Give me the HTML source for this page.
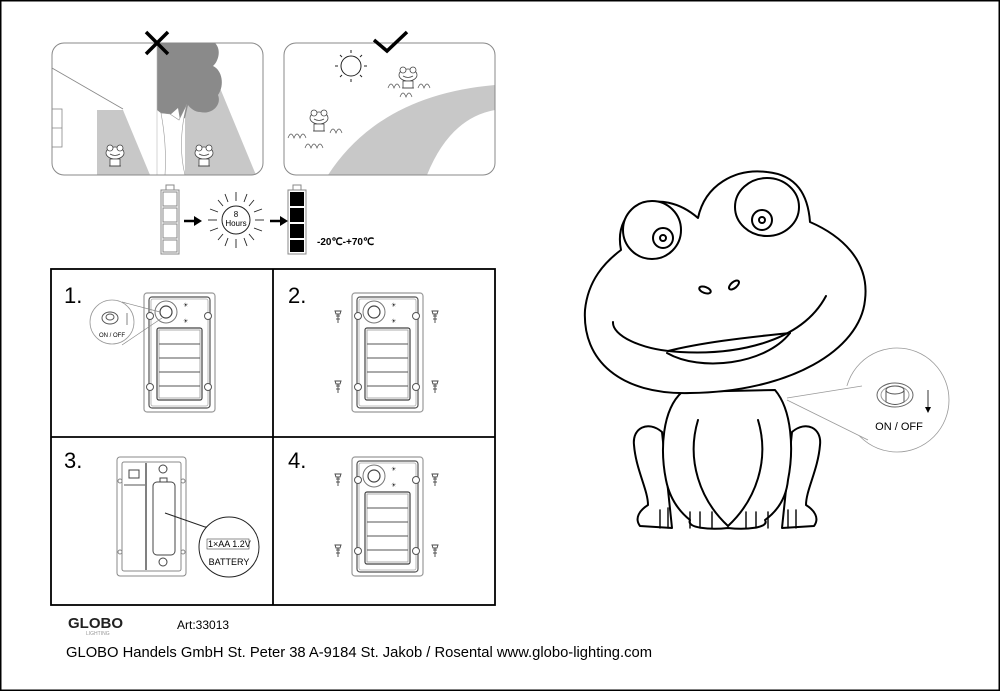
<!DOCTYPE html>
<html><head><meta charset="utf-8"><style>
html,body{margin:0;padding:0;background:#fff;}
svg{display:block;font-family:"Liberation Sans",sans-serif;}
</style></head><body>
<svg width="1000" height="691" viewBox="0 0 1000 691" xmlns="http://www.w3.org/2000/svg">
<defs>
 <g id="dev">
  <rect x="0" y="0" width="71" height="119" rx="3" fill="#fff" stroke="#999" stroke-width="1.2"/>
  <rect x="5" y="4" width="61" height="111" rx="3" fill="none" stroke="#555" stroke-width="1.2"/>
  <rect x="7" y="6" width="57" height="107" rx="2" fill="none" stroke="#aaa" stroke-width="0.8"/>
  <circle cx="22" cy="19" r="11" fill="#fff" stroke="#777" stroke-width="1"/>
  <circle cx="22" cy="19" r="6" fill="#fff" stroke="#444" stroke-width="1.2"/>
  <text x="39" y="14" font-size="6" fill="#222">☀</text>
  <text x="39" y="30" font-size="6" fill="#222">☀</text>
  <rect x="13" y="35" width="45" height="72" rx="2" fill="#fff" stroke="#444" stroke-width="1.2"/>
  <rect x="15" y="37" width="41" height="68" fill="none" stroke="#999" stroke-width="0.8"/>
  <line x1="15" y1="51" x2="56" y2="51" stroke="#555"/>
  <line x1="15" y1="65" x2="56" y2="65" stroke="#555"/>
  <line x1="15" y1="79" x2="56" y2="79" stroke="#555"/>
  <line x1="15" y1="93" x2="56" y2="93" stroke="#555"/>
  <circle cx="64" cy="23" r="3.5" fill="#fff" stroke="#555"/>
  <circle cx="6" cy="94" r="3.5" fill="#fff" stroke="#555"/>
  <circle cx="64" cy="94" r="3.5" fill="#fff" stroke="#555"/>
 </g>
 <g id="screw" stroke="#444" fill="#fff" stroke-width="0.9">
  <path d="M-3,-6 L3,-6 L2,-3 L-2,-3 Z"/><line x1="0" y1="-3" x2="0" y2="6"/><line x1="-2" y1="-1" x2="2" y2="-1"/><line x1="-2" y1="2" x2="2" y2="2"/>
 </g>
 <g id="smallfrog" fill="none" stroke="#444" stroke-width="0.8">
  <ellipse cx="0" cy="0" rx="9" ry="6" fill="#fff"/><circle cx="-5" cy="-5" r="3" fill="#fff"/><circle cx="5" cy="-5" r="3" fill="#fff"/>
  <path d="M-5,1 Q0,4 5,1"/><rect x="-5" y="6" width="10" height="7" fill="#fff"/><line x1="-6" y1="13" x2="6" y2="13"/>
 </g>
</defs>
<rect x="0.5" y="0.5" width="999" height="690" fill="#fff" stroke="#000" stroke-width="2"/>

<!-- Panel 1 -->
<clipPath id="c1"><rect x="52" y="43" width="211" height="132" rx="12"/></clipPath>
<g clip-path="url(#c1)">
 <rect x="52" y="43" width="211" height="132" fill="#fff"/>
 <polygon points="97,110 123,110 150,175 97,175" fill="#c8c8c8"/>
 <line x1="52" y1="68" x2="123" y2="109" stroke="#888" stroke-width="0.8"/>
 <rect x="52" y="109" width="10" height="38" fill="none" stroke="#888" stroke-width="0.8"/>
 <line x1="52" y1="128" x2="62" y2="128" stroke="#888" stroke-width="0.8"/>
 <polygon points="185,100 220,88 256,175 185,175" fill="#c8c8c8"/>
 <path d="M157,43 L215,43 C222,50 218,62 213,66 C222,70 225,85 218,95 C222,105 212,115 200,112 C195,112 190,108 188,105 L185,118 L180,120 L178,108 L170,115 C165,118 160,112 157,110 Z" fill="#8a8a8a"/>
 <path d="M161,113 C166,140 166,160 165,175 L185,175 C180,155 180,130 187,104 L179,120 L170,114 Z" fill="#fff" stroke="#999" stroke-width="0.6"/>
 <line x1="157" y1="43" x2="157" y2="175" stroke="#bbb" stroke-width="0.6"/>
 <use href="#smallfrog" x="115" y="153"/>
 <use href="#smallfrog" x="204" y="153"/>
</g>
<rect x="52" y="43" width="211" height="132" rx="12" fill="none" stroke="#888" stroke-width="1"/>
<path d="M146,32 L168,54 M168,32 L146,54" stroke="#000" stroke-width="3.5"/>

<!-- Panel 2 -->
<clipPath id="c2"><rect x="284" y="43" width="211" height="132" rx="12"/></clipPath>
<g clip-path="url(#c2)">
 <path d="M328,175 Q380,95 495,85 L495,110 Q450,118 427,175 Z" fill="#c8c8c8"/>
 <use href="#smallfrog" x="319" y="118"/>
 <use href="#smallfrog" x="408" y="75"/>
 <path d="M288,138 q3,-8 6,0 q3,-8 6,0 q3,-8 6,0 M330,133 q3,-8 6,0 q3,-8 6,0 M305,148 q3,-8 6,0 q3,-8 6,0 q3,-8 6,0 M388,88 q3,-8 6,0 q3,-8 6,0 M400,97 q3,-8 6,0 q3,-8 6,0 M418,88 q3,-8 6,0 q3,-8 6,0" fill="none" stroke="#555" stroke-width="0.7"/>
 <circle cx="351" cy="66" r="10" fill="#fff" stroke="#222" stroke-width="1"/>
 <g stroke="#222" stroke-width="1">
  <line x1="351" y1="50" x2="351" y2="53"/><line x1="351" y1="79" x2="351" y2="82"/><line x1="335" y1="66" x2="338" y2="66"/><line x1="364" y1="66" x2="367" y2="66"/>
  <line x1="340" y1="55" x2="342" y2="57"/><line x1="360" y1="75" x2="362" y2="77"/><line x1="362" y1="55" x2="360" y2="57"/><line x1="340" y1="77" x2="342" y2="75"/>
 </g>
</g>
<rect x="284" y="43" width="211" height="132" rx="12" fill="none" stroke="#888" stroke-width="1"/>
<path d="M374,40 L387,51 L407,32" fill="none" stroke="#000" stroke-width="3.5"/>

<!-- battery row -->
<g stroke="#888" fill="#fff" stroke-width="1">
 <rect x="166" y="185" width="8" height="5"/>
 <rect x="161" y="190" width="18" height="64"/>
 <rect x="163" y="192" width="14" height="14"/><rect x="163" y="208" width="14" height="14"/><rect x="163" y="224" width="14" height="14"/><rect x="163" y="240" width="14" height="12"/>
 <rect x="293" y="185" width="8" height="5"/>
 <rect x="288" y="190" width="18" height="64"/>
</g>
<g fill="#000"><rect x="290" y="192" width="14" height="14"/><rect x="290" y="208" width="14" height="14"/><rect x="290" y="224" width="14" height="14"/><rect x="290" y="240" width="14" height="12"/></g>
<path d="M184,221 L196,221" stroke="#000" stroke-width="2.5"/><path d="M194,216 L202,221 L194,226 Z"/>
<path d="M270,221 L282,221" stroke="#000" stroke-width="2.5"/><path d="M280,216 L288,221 L280,226 Z"/>
<circle cx="236" cy="220" r="14" fill="#fff" stroke="#222" stroke-width="1"/>
<g stroke="#222" stroke-width="0.9">
 <line x1="236" y1="192" x2="236" y2="201"/><line x1="236" y1="239" x2="236" y2="248"/>
 <line x1="208" y1="220" x2="217" y2="220"/><line x1="255" y1="220" x2="264" y2="220"/>
 <line x1="218" y1="200" x2="223" y2="206"/><line x1="249" y1="234" x2="254" y2="240"/>
 <line x1="254" y1="200" x2="249" y2="206"/><line x1="218" y1="240" x2="223" y2="234"/>
 <line x1="225" y1="194" x2="228" y2="202"/><line x1="247" y1="194" x2="244" y2="202"/>
 <line x1="225" y1="246" x2="228" y2="238"/><line x1="247" y1="246" x2="244" y2="238"/>
 <line x1="210" y1="209" x2="218" y2="212"/><line x1="262" y1="209" x2="254" y2="212"/>
 <line x1="210" y1="231" x2="218" y2="228"/><line x1="262" y1="231" x2="254" y2="228"/>
</g>
<text x="236" y="217" font-size="8" text-anchor="middle">8</text>
<text x="236" y="226" font-size="8" text-anchor="middle">Hours</text>
<text x="317" y="245" font-size="10" font-weight="bold">-20℃-+70℃</text>

<!-- Grid -->
<rect x="51" y="269" width="444" height="336" fill="none" stroke="#000" stroke-width="1.8"/>
<line x1="273" y1="269" x2="273" y2="605" stroke="#000" stroke-width="1.8"/>
<line x1="51" y1="437" x2="495" y2="437" stroke="#000" stroke-width="1.8"/>
<text x="64" y="303" font-size="22">1.</text>
<text x="288" y="303" font-size="22">2.</text>
<text x="64" y="468" font-size="22">3.</text>
<text x="288" y="468" font-size="22">4.</text>

<use href="#dev" x="144" y="293"/>
<circle cx="150" cy="316" r="3.5" fill="#fff" stroke="#555"/>
<path d="M122,302 L160,312 M122,345 L162,318" stroke="#888" stroke-width="0.7"/>
<circle cx="112" cy="322" r="22" fill="#fff" stroke="#999" stroke-width="0.8"/>
<ellipse cx="110" cy="318" rx="8" ry="6" fill="#fff" stroke="#555"/><ellipse cx="110" cy="317" rx="4" ry="3" fill="#fff" stroke="#555"/>
<line x1="127" y1="313" x2="127" y2="325" stroke="#333" stroke-width="0.6"/>
<text x="112" y="337" font-size="6" text-anchor="middle">ON / OFF</text>

<use href="#dev" x="352" y="293"/>
<circle cx="358" cy="316" r="3.5" fill="#fff" stroke="#555"/>
<use href="#screw" x="338" y="317"/><use href="#screw" x="435" y="317"/><use href="#screw" x="338" y="387"/><use href="#screw" x="435" y="387"/>

<use href="#dev" x="352" y="457"/>
<circle cx="358" cy="480" r="3.5" fill="#fff" stroke="#555"/>
<use href="#screw" x="338" y="480"/><use href="#screw" x="435" y="480"/><use href="#screw" x="338" y="551"/><use href="#screw" x="435" y="551"/>

<!-- battery device -->
<g fill="none" stroke="#888" stroke-width="1">
 <rect x="117" y="457" width="69" height="119" rx="3" fill="#fff"/>
 <rect x="122" y="462" width="59" height="109" rx="2"/>
 <line x1="146" y1="463" x2="146" y2="570" stroke="#555" stroke-width="1.5"/>
 <line x1="124" y1="485" x2="145" y2="485" stroke="#555"/>
 <rect x="129" y="470" width="10" height="8" stroke="#444"/>
 <circle cx="163" cy="469" r="4" stroke="#444"/>
 <circle cx="163" cy="562" r="4" stroke="#444"/>
 <rect x="153" y="482" width="22" height="73" rx="4" stroke="#444"/>
 <rect x="160" y="478" width="7" height="4" stroke="#444"/>
 <circle cx="120" cy="481" r="2"/><circle cx="183" cy="481" r="2"/><circle cx="120" cy="552" r="2"/><circle cx="183" cy="552" r="2"/>
</g>
<path d="M165,513 L205,527 L230,525" fill="none" stroke="#222" stroke-width="1"/>
<circle cx="229" cy="547" r="30" fill="#fff" stroke="#222" stroke-width="1"/>
<text x="208" y="547" font-size="9">1×AA 1.2V</text>
<rect x="207" y="539" width="42" height="10" fill="none" stroke="#444" stroke-width="0.6"/>
<text x="229" y="565" font-size="9" text-anchor="middle">BATTERY</text>

<!-- footer -->
<text x="68" y="628" font-size="15" font-weight="bold" fill="#222">GLOBO</text>
<text x="86" y="635" font-size="5" fill="#999">LIGHTING</text>
<text x="177" y="629" font-size="12">Art:33013</text>
<text x="66" y="657" font-size="15" textLength="586" lengthAdjust="spacingAndGlyphs">GLOBO Handels GmbH  St. Peter 38  A-9184 St. Jakob / Rosental  www.globo-lighting.com</text>

<!-- Frog -->
<g fill="#fff" stroke="#000" stroke-width="2" stroke-linejoin="round" stroke-linecap="round">
 <path d="M662,432 C648,420 632,428 634,445 C636,470 648,490 648,505 C640,510 634,518 640,526 L672,528 Z"/>
 <path d="M792,432 C806,420 822,428 820,445 C818,470 806,490 806,505 C814,510 820,518 814,526 L782,528 Z"/>
 <path d="M682,392 C662,410 660,450 666,480 C670,500 680,512 690,520 C686,528 710,530 728,528 C745,530 770,528 765,520 C776,512 786,500 788,480 C794,450 792,410 775,390 Z"/>
 <path d="M698,420 C686,460 700,500 728,526" fill="none"/>
 <path d="M758,420 C770,460 756,500 728,526" fill="none"/>
 <path d="M660,510 L660,528 M668,508 L668,528 M690,512 L690,528 M700,512 L700,528 M712,512 L712,528 M746,512 L746,528 M756,512 L756,528 M768,512 L768,528 M788,510 L788,528 M796,510 L796,528" fill="none" stroke-width="1.4"/>
 <path d="M621,250 C612,205 660,185 698,218 C705,185 735,168 767,172 C797,175 808,195 810,222 C840,235 870,260 865,300 C860,350 790,392 690,393 C620,395 582,360 585,310 C588,280 605,262 621,250 Z"/>
 <circle cx="652" cy="230" r="29"/>
 <circle cx="663" cy="238" r="10"/>
 <circle cx="663" cy="238" r="3"/>
 <ellipse cx="767" cy="207" rx="32" ry="29"/>
 <circle cx="762" cy="220" r="10"/>
 <circle cx="762" cy="220" r="3"/>
 <ellipse cx="705" cy="290" rx="6" ry="3" transform="rotate(20 705 290)"/>
 <ellipse cx="734" cy="285" rx="6" ry="3" transform="rotate(-40 734 285)"/>
 <path d="M613,322 C612,335 640,350 680,352 C730,355 800,345 826,296" fill="none"/>
 <path d="M667,353 C700,372 765,365 790,333" fill="none"/>
 <path d="M668,351 C700,343 740,338 790,333" fill="none"/>
</g>
<circle cx="897" cy="400" r="52" fill="#fff" stroke="#999" stroke-width="0.8"/>
<path d="M861,383 L787,398 L868,440" fill="#fff" stroke="none"/>
<path d="M787,398 L862,386 M787,400 L868,440" stroke="#999" stroke-width="0.8"/>
<ellipse cx="895" cy="395" rx="18" ry="12" fill="#fff" stroke="#666"/>
<ellipse cx="895" cy="395" rx="14" ry="9" fill="#fff" stroke="#999"/>
<path d="M886,390 L886,402 Q895,407 904,402 L904,390" fill="#fff" stroke="#555"/>
<ellipse cx="895" cy="390" rx="9" ry="4" fill="#fff" stroke="#555"/>
<line x1="928" y1="390" x2="928" y2="408" stroke="#333"/><path d="M925,407 L931,407 L928,413 Z"/>
<text x="899" y="430" font-size="11" text-anchor="middle">ON / OFF</text>
</svg>
</body></html>
